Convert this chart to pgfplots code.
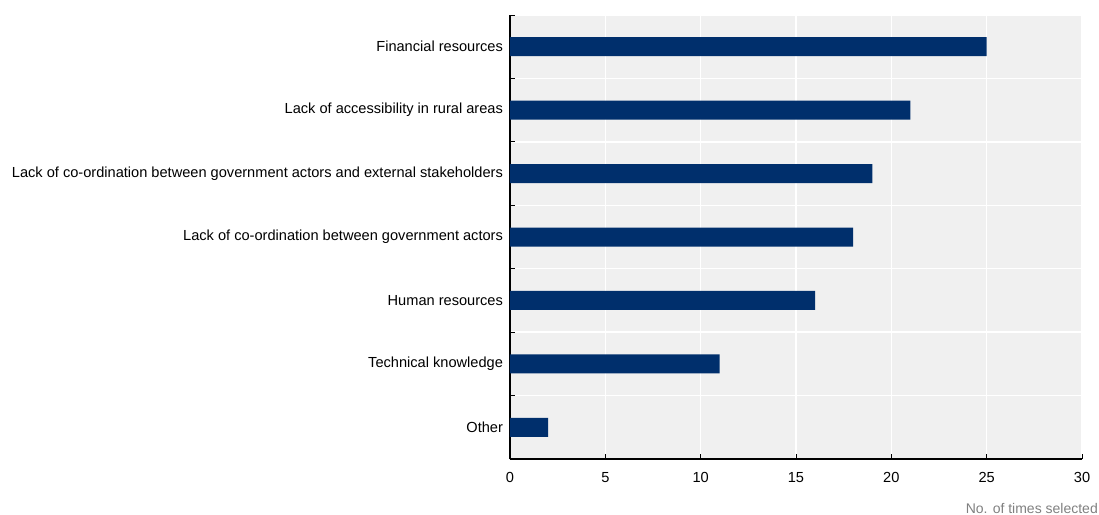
\documentclass[border=0pt]{standalone}
\usepackage{pgfplots}
\pgfplotsset{compat=1.18}
\usepackage{fontspec}
\setmainfont{Liberation Sans}
\definecolor{barblue}{RGB}{0,47,108}
\definecolor{bggray}{RGB}{240,240,240}
\begin{document}
\fontsize{14.6pt}{17pt}\selectfont
\begin{tikzpicture}
\useasboundingbox (-510pt,-55pt) rectangle (589pt,459pt);
\begin{axis}[
  at={(0pt,0pt)}, anchor=south west,
  scale only axis, width=572pt, height=444pt,
  xbar, bar width=19pt,
  xmin=0, xmax=30, ymin=-0.5, ymax=6.5,
  xtick={0,5,...,30},
  ytick={0,...,6},
  yticklabels={Other,Technical knowledge,Human resources,Lack of co-ordination between government actors,Lack of co-ordination between government actors and external stakeholders,Lack of accessibility in rural areas,Financial resources},
  minor ytick={-0.5,0.5,...,6.5},
  axis x line*=bottom, axis y line*=left,
  axis line style={black, line width=1.3pt},
  axis background/.style={fill=bggray},
  xmajorgrids, yminorgrids,
  major grid style={white, line width=1.5pt},
  minor grid style={white, line width=1.5pt},
  tick align=inside,
  major tick length=5pt, minor tick length=5pt,
  major y tick style={draw=none},
  minor y tick style={black, line width=1pt},
  major x tick style={black, line width=1pt},
  tick label style={font=\fontsize{14.6pt}{17pt}\selectfont},
  /pgf/number format/assume math mode=true,
  yticklabel style={xshift=-2pt},
  xticklabel style={yshift=-8pt},
  clip=false,
]
\addplot[fill=barblue, draw=none] coordinates {(2,0) (11,1) (16,2) (18,3) (19,4) (21,5) (25,6)};
\end{axis}
\node[anchor=east, inner sep=0pt, text={rgb,255:red,128;green,128;blue,128}, font=\fontsize{14pt}{16pt}\selectfont] at (588pt,-49pt) {No. of times selected};
\end{tikzpicture}
\end{document}
